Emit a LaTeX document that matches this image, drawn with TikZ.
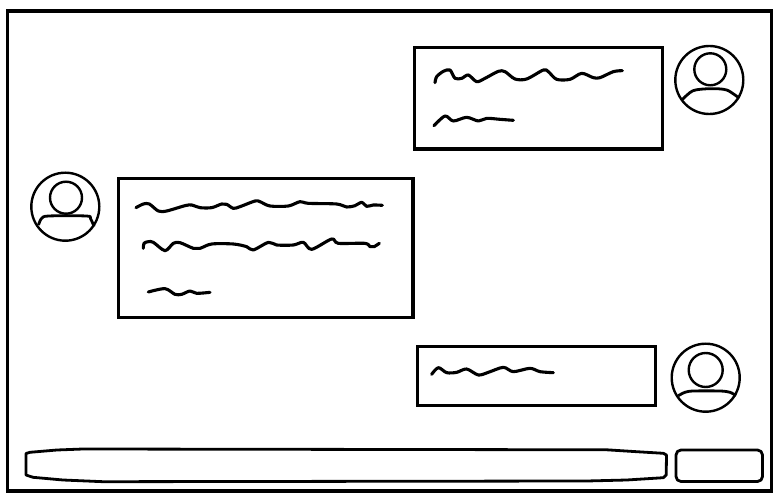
\documentclass[tikz,border=0pt]{standalone}
\tikzset{
  frame/.style={draw=black,line width=3.2pt},
  avatar/.style={draw=black,line width=2.4pt},
  wiggle/.style={draw=black,line width=3.1pt,line cap=round,line join=round,smooth,tension=0.5},
  pill/.style={draw=black,line width=2.8pt,line join=round},
}
\newcommand{\useravatar}[6]{%
  \draw[avatar] (#1,#2) circle[radius=34];
  \draw[avatar] (#3,#4) circle[radius=#5];
  \draw[avatar,line width=2.8pt,smooth,tension=0.5] plot coordinates {#6};
}
\begin{document}
\begin{tikzpicture}[x=1pt,y=-1pt]
\useasboundingbox (0,0) rectangle (784,502);
\fill[white] (0,0) rectangle (784,502);
\draw[frame] (7.5,11) rectangle (771.5,491);
% top right message
\draw[frame] (414.5,47.5) rectangle (662.5,149);
\useravatar{709.3}{80}{710.3}{69.3}{16}{(682.7,99.3)(693,90.7)(710,88.7)(726.7,90)(739.3,98.3)}
\begin{scope}[shift={(410,30)},x=1/3*1pt,y=-1/3*1pt]
\draw[wiggle] plot coordinates {(75,158)(80,140)(100,124)(120,120)(135,145)(155,145)(175,135)(200,155)(225,145)(265,124)(285,125)(315,147)(350,147)(400,120)(415,125)(440,148)(480,148)(515,130)(550,143)(570,143)(610,125)(637,122)};
\draw[wiggle] plot coordinates {(72,287)(105,258)(130,273)(170,262)(205,273)(230,265)(270,268)(310,271)};
\end{scope}
% left message
\draw[frame] (118.5,178.5) rectangle (413,317.5);
\useravatar{65.3}{206.7}{66}{197.7}{16}{(38.5,225)(41.5,218.5)(48.5,216)(86.5,216)(90.5,218.5)(94,226.5)}
\begin{scope}[shift={(20,165)},x=1/3*1pt,y=-1/3*1pt]
\draw[wiggle] plot coordinates {(348,128)(370,117)(388,117)(415,138)(440,138)(495,122)(515,120)(540,128)(575,128)(605,117)(620,118)(640,130)(660,125)(705,108)(720,110)(750,123)(805,123)(840,110)(865,115)(950,117)(980,126)(1005,122)(1025,112)(1040,124)(1060,120)(1087,121)};
\draw[wiggle] plot coordinates {(370,250)(372,235)(385,230)(400,232)(435,257)(460,235)(480,233)(520,250)(540,250)(575,237)(640,237)(680,245)(700,255)(745,232)(770,240)(820,240)(850,232)(875,253)(935,222)(955,235)(1035,235)(1050,245)(1062,245)(1078,235)};
\draw[wiggle] plot coordinates {(385,381)(435,371)(465,388)(485,388)(510,378)(530,385)(570,382)};
\end{scope}
% bottom right message
\draw[frame] (417.5,346.5) rectangle (655.5,405.5);
\useravatar{705.7}{377.7}{705.7}{370}{17}{(678.3,395.7)(685,392.3)(693.3,391)(720,391)(730,392.3)(736,395.7)}
\begin{scope}[shift={(410,335)},x=1/3*1pt,y=-1/3*1pt]
\draw[wiggle] plot coordinates {(65,118)(85,98)(110,113)(140,112)(170,102)(205,120)(235,112)(280,97)(310,110)(360,100)(390,110)(430,113)};
\end{scope}
% input bar and button
\draw[pill] (26,453.5) -- (30,452.3) -- (57,450) -- (83,449) -- (606.7,449.8) -- (636.7,451.7) -- (663.3,453.3) -- (666.5,455) -- (666.2,475) -- (663.3,477.7) -- (626.7,480) -- (586.7,481) -- (103,481.7) -- (63,480) -- (33,477.3) -- (26,475) -- cycle;
\draw[pill,rounded corners=5pt] (676,450) rectangle (762.5,481.5);
\end{tikzpicture}
\end{document}
